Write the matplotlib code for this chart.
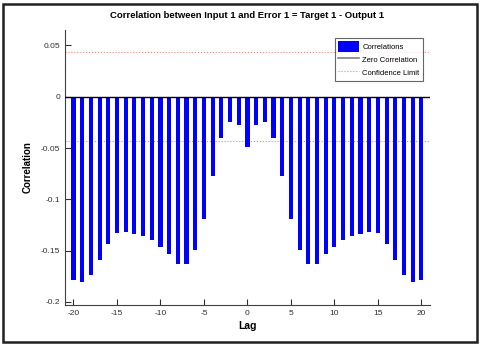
import numpy as np
import matplotlib
matplotlib.use("Agg")
import matplotlib.pyplot as plt
from matplotlib.patches import Rectangle

plt.rcParams['font.family'] = ['Liberation Sans', 'DejaVu Sans']
plt.rcParams['axes.unicode_minus'] = False

# correlation values for lags -20..0 (mirrored for positive lags)
lags = list(range(-20, 21))
half = [-0.1786, -0.181, -0.174, -0.159, -0.1435, -0.133, -0.132, -0.134,
        -0.136, -0.1396, -0.146, -0.1536, -0.163, -0.163, -0.149, -0.119,
        -0.077, -0.0406, -0.0244, -0.0276]
center = -0.049
corr = half + [center] + half[::-1]
conf_limit = 0.0435
xticks = [-20, -15, -10, -5, 0, 5, 10, 15, 20]
yticks = [-0.2, -0.15, -0.1, -0.05, 0, 0.05]
ylabels = ["-0.2", "-0.15", "-0.1", "-0.05", "0", "0.05"]

fig = plt.figure(figsize=(4.8, 3.47), dpi=100)
ax = fig.add_axes([0.135, 0.121, 0.761, 0.7925])

b = ax.bar(lags, corr, width=0.48, color=(0, 0, 1), label="Correlations", zorder=2)
z = ax.axhline(0, color="black", linewidth=1.0, label="Zero Correlation", zorder=3)
c = ax.axhline(conf_limit, color="#ff8080", linestyle=":", linewidth=0.8,
               label="Confidence Limit", zorder=1)
ax.axhline(-conf_limit, color="#ff8080", linestyle=":", linewidth=0.8, zorder=1)

ax.set_xlim(-21, 21)
ax.set_ylim(-0.203, 0.065)
ax.set_xticks(xticks)
ax.set_yticks(yticks)
ax.set_yticklabels(ylabels)
ax.tick_params(direction="in", length=4, labelsize=6, width=0.8, colors="#303030")
ax.spines["top"].set_visible(False)
ax.spines["right"].set_visible(False)
for s in ["left", "bottom"]:
    ax.spines[s].set_color("#404040")

ax.set_title("Correlation between Input 1 and Error 1 = Target 1 - Output 1",
             fontsize=6.8, fontweight="bold", pad=9)
ax.set_xlabel("Lag", fontsize=7.5, fontweight="bold", labelpad=3)
ax.set_ylabel("Correlation", fontsize=7, fontweight="bold", labelpad=6)

zl = plt.Line2D([], [], color="#808080", linewidth=1.2)
leg = ax.legend([b, zl, c], ["Correlations", "Zero Correlation", "Confidence Limit"],
                loc="upper right", fontsize=5.5, frameon=True, fancybox=False,
                borderpad=0.4, handlelength=2.8, handleheight=1.7, labelspacing=0.35,
                handletextpad=0.4, borderaxespad=0, bbox_to_anchor=(0.98, 0.97))
leg.get_frame().set_edgecolor("#404040")
leg.get_frame().set_linewidth(0.8)

# border around figure
fig.patches.append(Rectangle((0.006, 0.013), 0.988, 0.975, transform=fig.transFigure,
                             fill=False, edgecolor="#202020", linewidth=1.8))

fig.savefig("out.png", dpi=100)
